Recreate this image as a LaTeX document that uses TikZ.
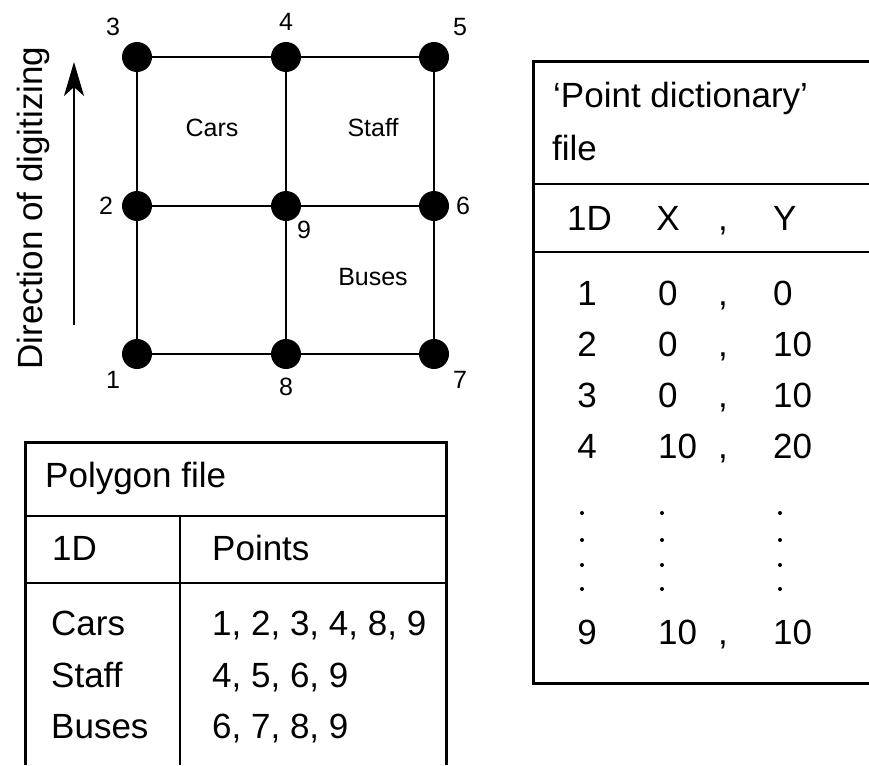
\documentclass[tikz,border=0pt]{standalone}
\usepackage{fontspec}
\setmainfont{Liberation Sans}
\usetikzlibrary{arrows.meta}

\begin{document}
\begin{tikzpicture}[x=1pt, y=-1pt,
    vertex/.style={circle, fill=black, minimum size=30pt, inner sep=0pt},
    small/.style={font=\fontsize{25}{30}\selectfont, inner sep=0pt},
    cell/.style={font=\fontsize{35}{42}\selectfont, inner sep=0pt, anchor=base west},
    cellc/.style={font=\fontsize{35}{42}\selectfont, inner sep=0pt, anchor=base},
    gridline/.style={line width=2.5pt},
    tableframe/.style={line width=3pt},
    tablerule/.style={line width=2pt},
    arrow/.style={-{Stealth[length=34pt, width=20pt, inset=9pt]}, line width=2pt}
]
    \useasboundingbox (0,0) rectangle (869,765);

    % Digitized points
    \node[vertex] (p3) at (137,57) {};
    \node[vertex] (p4) at (286,57) {};
    \node[vertex] (p5) at (434,57) {};
    \node[vertex] (p2) at (137,206) {};
    \node[vertex] (p9) at (286,206) {};
    \node[vertex] (p6) at (434,206) {};
    \node[vertex] (p1) at (137,354) {};
    \node[vertex] (p8) at (286,354) {};
    \node[vertex] (p7) at (434,354) {};

    % Lines between points
    \draw[gridline] (p3) -- (p4);
    \draw[gridline] (p4) -- (p5);
    \draw[gridline] (p2) -- (p9);
    \draw[gridline] (p9) -- (p6);
    \draw[gridline] (p1) -- (p8);
    \draw[gridline] (p8) -- (p7);
    \draw[gridline] (p3) -- (p2);
    \draw[gridline] (p2) -- (p1);
    \draw[gridline] (p4) -- (p9);
    \draw[gridline] (p9) -- (p8);
    \draw[gridline] (p5) -- (p6);
    \draw[gridline] (p6) -- (p7);

    % Point numbers
    \node[small] (n3) at (113,27) {3};
    \node[small] (n4) at (286,22) {4};
    \node[small] (n5) at (460,27) {5};
    \node[small] (n2) at (106,206) {2};
    \node[small] (n6) at (463,206) {6};
    \node[small] (n9) at (304,230) {9};
    \node[small] (n1) at (113,380) {1};
    \node[small] (n8) at (286,387) {8};
    \node[small] (n7) at (460,380) {7};

    % Areas
    \node[small] (cars) at (212,128) {Cars};
    \node[small] (staff) at (373,128) {Staff};
    \node[small] (buses) at (373,277) {Buses};

    % Direction of digitizing
    \node[font=\fontsize{35}{42}\selectfont, inner sep=0pt, rotate=90, anchor=base] (direction) at (42,208) {Direction of digitizing};
    \coordinate (arrowtail) at (74,325);
    \coordinate (arrowtip) at (74,62);
    \draw[arrow] (arrowtail) -- (arrowtip);

    % Polygon file
    \draw[tableframe] (25,765) -- (25,442) -- (446,442) -- (446,765);
    \draw[tablerule] (25,516) -- (446,516);
    \draw[tablerule] (25,583) -- (446,583);
    \draw[tablerule] (180,516) -- (180,765);
    \node[cell] (polytitle) at (45,487) {Polygon file};
    \node[cell] (polyid) at (52,560) {1D};
    \node[cell] (polypoints) at (212,560) {Points};
    \node[cell] (carsid) at (51,635) {Cars};
    \node[cell] (carspts) at (212,635) {1, 2, 3, 4, 8, 9};
    \node[cell] (staffid) at (51,687) {Staff};
    \node[cell] (staffpts) at (212,687) {4, 5, 6, 9};
    \node[cell] (busesid) at (51,738) {Buses};
    \node[cell] (busespts) at (212,738) {6, 7, 8, 9};

    % Point dictionary file
    \draw[tableframe] (869,62) -- (533,62) -- (533,683) -- (869,683);
    \draw[tablerule] (533,184) -- (869,184);
    \draw[tablerule] (533,252) -- (869,252);
    \node[cell] (dicttitle) at (553,107) {‘Point dictionary’};
    \node[cell] (dictfile) at (552,160) {file};
    \node[cell] (dictid) at (567,230) {1D};
    \node[cellc] (dictx) at (668,230) {X};
    \node[cellc] (dictcomma) at (723,230) {,};
    \node[cell] (dicty) at (773,230) {Y};
    \foreach \i/\xv/\yv/\b in {1/0/0/305, 2/0/10/356, 3/0/10/407, 4/10/20/458, 9/10/10/644} {
        \node[cellc] (id\i) at (587,\b) {\i};
        \node[cell] (x\i) at (658,\b) {\xv};
        \node[cellc] (comma\i) at (723,\b) {,};
        \node[cell] (y\i) at (773,\b) {\yv};
    }
    \foreach \y in {513,540,565,589} {
        \fill (582,\y) circle (2pt);
        \fill (662,\y) circle (2pt);
        \fill (780,\y) circle (2pt);
    }
\end{tikzpicture}
\end{document}
